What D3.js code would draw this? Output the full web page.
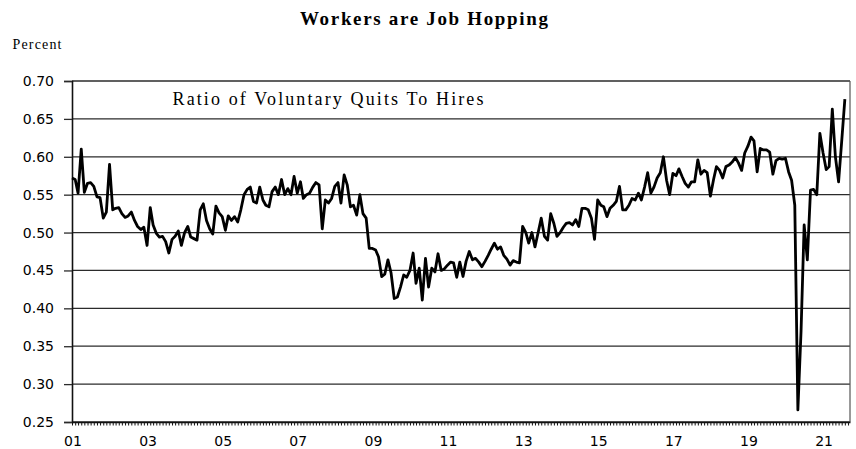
<!DOCTYPE html>
<html>
<head>
<meta charset="utf-8">
<script src="https://cdn.jsdelivr.net/npm/d3@7"></script>
<style>
  html, body { margin: 0; padding: 0; background: #fff; }
  svg { display: block; }
  .serif { font-family: "Liberation Serif", "Times New Roman", serif; fill: #000; }
  .tick-label { font-family: "DejaVu Sans", Tahoma, sans-serif; font-size: 14px; fill: #000; }
</style>
</head>
<body>
<div id="chart-container" style="width:856px;height:449px"></div>
<script>
// Ratio of voluntary quits to hires, monthly, starting Jan 2001
let startYear = 2001,
    startMonth = 0;

let quitsToHires = [
    0.572, 0.570, 0.552, 0.610, 0.553, 0.565, 0.566, 0.561, 0.547, 0.546, 0.519, 0.527, // 2001
    0.590, 0.530, 0.532, 0.533, 0.525, 0.520, 0.522, 0.527, 0.516, 0.508, 0.504, 0.507, // 2002
    0.483, 0.533, 0.510, 0.499, 0.494, 0.495, 0.488, 0.473, 0.491, 0.495, 0.502, 0.483, // 2003
    0.500, 0.508, 0.494, 0.492, 0.490, 0.530, 0.538, 0.516, 0.505, 0.498, 0.535, 0.526, // 2004
    0.521, 0.503, 0.522, 0.516, 0.521, 0.514, 0.530, 0.550, 0.557, 0.560, 0.541, 0.539, // 2005
    0.560, 0.543, 0.536, 0.534, 0.554, 0.560, 0.550, 0.570, 0.550, 0.558, 0.550, 0.574, // 2006
    0.552, 0.567, 0.545, 0.550, 0.552, 0.560, 0.566, 0.563, 0.505, 0.543, 0.539, 0.545, // 2007
    0.561, 0.566, 0.539, 0.576, 0.563, 0.534, 0.536, 0.523, 0.550, 0.525, 0.519, 0.479, // 2008
    0.479, 0.477, 0.468, 0.442, 0.445, 0.464, 0.447, 0.413, 0.415, 0.428, 0.444, 0.441, // 2009
    0.450, 0.473, 0.433, 0.453, 0.411, 0.466, 0.428, 0.453, 0.448, 0.472, 0.450, 0.452, // 2010
    0.457, 0.461, 0.460, 0.441, 0.461, 0.442, 0.462, 0.475, 0.464, 0.466, 0.461, 0.455, // 2011
    0.462, 0.470, 0.478, 0.486, 0.478, 0.481, 0.470, 0.465, 0.457, 0.463, 0.461, 0.460, // 2012
    0.508, 0.500, 0.486, 0.500, 0.481, 0.500, 0.519, 0.495, 0.490, 0.525, 0.512, 0.495, // 2013
    0.500, 0.507, 0.512, 0.513, 0.510, 0.517, 0.508, 0.532, 0.532, 0.530, 0.519, 0.491, // 2014
    0.543, 0.536, 0.534, 0.521, 0.532, 0.536, 0.541, 0.561, 0.530, 0.530, 0.536, 0.545, // 2015
    0.543, 0.552, 0.543, 0.560, 0.579, 0.552, 0.560, 0.572, 0.579, 0.600, 0.569, 0.550, // 2016
    0.578, 0.575, 0.584, 0.574, 0.565, 0.560, 0.567, 0.567, 0.596, 0.577, 0.582, 0.579, // 2017
    0.548, 0.570, 0.587, 0.582, 0.572, 0.587, 0.589, 0.593, 0.599, 0.592, 0.582, 0.605, // 2018
    0.614, 0.626, 0.621, 0.580, 0.611, 0.609, 0.609, 0.606, 0.577, 0.595, 0.598, 0.597, // 2019
    0.598, 0.580, 0.569, 0.536, 0.266, 0.370, 0.510, 0.464, 0.556, 0.557, 0.550, 0.631, // 2020
    0.605, 0.583, 0.587, 0.663, 0.600, 0.567, 0.620, 0.676                              // 2021
];

let yTicks = [0.25, 0.30, 0.35, 0.40, 0.45, 0.50, 0.55, 0.60, 0.65, 0.70],
    xTickYears = [2001, 2003, 2005, 2007, 2009, 2011, 2013, 2015, 2017, 2019, 2021];

let titleText = "Workers are Job Hopping",
    unitText = "Percent",
    seriesLabel = "Ratio of Voluntary Quits To Hires";

let containerId = 'chart-container',
    svg = d3.select(`#${containerId}`).append("svg").attr("width", 856).attr("height", 449),
    margin = { top: 81, right: 6, bottom: 27, left: 72 },
    width = 856 - margin.left - margin.right,
    height = 449 - margin.top - margin.bottom,
    g = svg.append("g").attr("transform", "translate(" + margin.left + "," + margin.top + ")");

let data = quitsToHires.map((v, i) => ({ date: new Date(startYear, startMonth + i, 1), ratio: v }));

let x = d3.scaleTime().domain([new Date(2001, 0, 1), new Date(2021, 8, 20)]).range([0, width]),
    y = d3.scaleLinear().domain([0.25, 0.70]).range([height, 0]);

let line = d3.line()
    .x(d => x(d.date))
    .y(d => y(d.ratio));

// grid lines
g.append("g")
    .selectAll("line")
    .data(yTicks)
    .join("line")
    .attr("x1", 0)
    .attr("x2", width)
    .attr("y1", d => y(d))
    .attr("y2", d => y(d))
    .attr("stroke", "#2b2b2b")
    .attr("stroke-width", 1.3);

// right frame
g.append("line")
    .attr("x1", width).attr("x2", width)
    .attr("y1", 0).attr("y2", height)
    .attr("stroke", "#555")
    .attr("stroke-width", 1.2);

// y axis
let yAxis = g.append("g")
    .call(d3.axisLeft(y).tickValues(yTicks).tickFormat(d3.format(".2f")).tickSize(8).tickPadding(10));
yAxis.select(".domain").attr("stroke", "#111").attr("stroke-width", 1.6);
yAxis.selectAll(".tick line").attr("stroke", "#2b2b2b").attr("stroke-width", 1.3);
yAxis.selectAll("text").attr("class", "tick-label");
yAxis.attr("font-size", null).attr("font-family", null);

// x axis with monthly ticks
let xAxis = g.append("g")
    .attr("transform", "translate(0," + height + ")")
    .call(d3.axisBottom(x).ticks(d3.timeMonth.every(1)).tickFormat("").tickSize(3.5).tickSizeOuter(0));
xAxis.select(".domain").attr("stroke", "#111").attr("stroke-width", 1.6);
xAxis.selectAll(".tick line").attr("stroke", "#111").attr("stroke-width", 1);

g.append("g")
    .attr("transform", "translate(0," + height + ")")
    .selectAll("text")
    .data(xTickYears)
    .join("text")
    .attr("class", "tick-label")
    .attr("x", d => x(new Date(d, 0, 1)) + 1)
    .attr("y", 24)
    .attr("text-anchor", "middle")
    .text(d => d3.format("02")(d % 100));

// series
g.append("path")
    .datum(data)
    .attr("fill", "none")
    .attr("stroke", "#000")
    .attr("stroke-width", 2.8)
    .attr("stroke-linejoin", "round")
    .attr("d", line);

// texts
svg.append("text")
    .attr("class", "serif")
    .attr("x", 300)
    .attr("y", 25)
    .attr("font-size", 19)
    .attr("font-weight", "bold")
    .attr("textLength", 248)
    .attr("lengthAdjust", "spacing")
    .text(titleText);

svg.append("text")
    .attr("class", "serif")
    .attr("x", 12.5)
    .attr("y", 49)
    .attr("font-size", 14)
    .attr("textLength", 49)
    .attr("lengthAdjust", "spacing")
    .text(unitText);

svg.append("text")
    .attr("class", "serif")
    .attr("x", 172.5)
    .attr("y", 105)
    .attr("font-size", 18)
    .attr("textLength", 311)
    .attr("lengthAdjust", "spacing")
    .text(seriesLabel);
</script>
</body>
</html>
